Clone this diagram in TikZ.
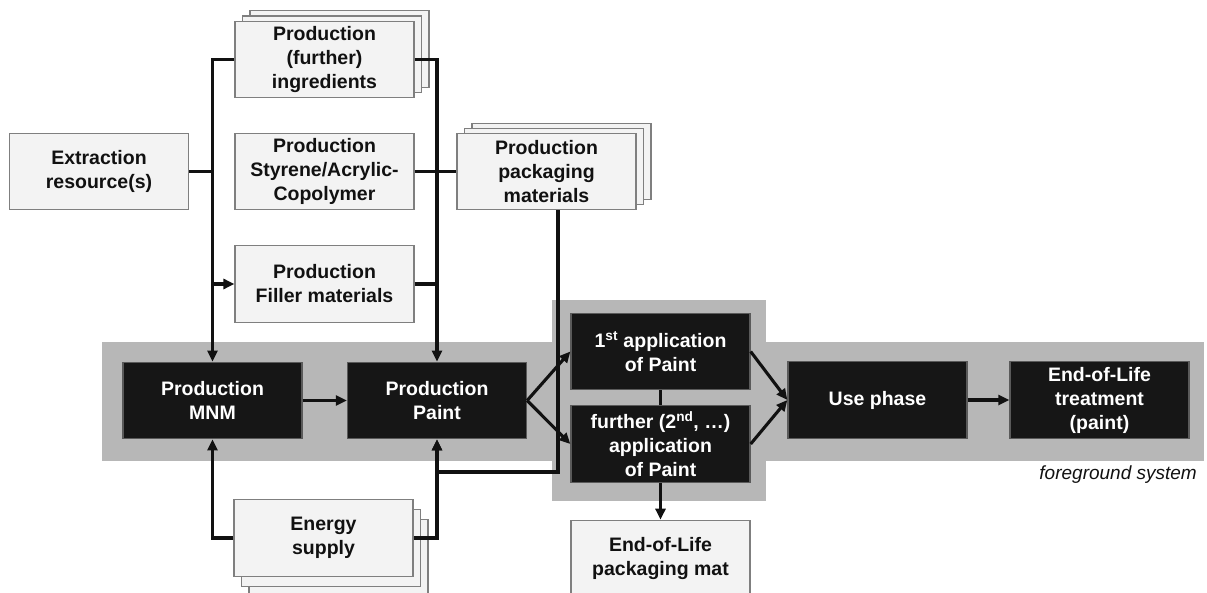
\documentclass[tikz,border=0pt]{standalone}
\usepackage{fontspec}
\setmainfont{Liberation Sans}
\usetikzlibrary{arrows.meta}
\definecolor{lightfill}{HTML}{F3F3F3}
\definecolor{lightline}{HTML}{7F7F7F}
\definecolor{darkfill}{HTML}{161616}
\definecolor{darkline}{HTML}{5A5A5A}
\definecolor{bandgray}{HTML}{B7B7B7}
\definecolor{inkblack}{HTML}{111111}
\tikzset{
  box/.style={rectangle, minimum width=179pt, minimum height=76.5pt, inner sep=0pt,
    align=center, font=\bfseries\fontsize{19.5}{24}\selectfont},
  lightbox/.style={box, fill=lightfill, draw=lightline, line width=1.2pt, text=inkblack},
  darkbox/.style={box, fill=darkfill, draw=darkline, line width=1.3pt, text=white},
  conn/.style={draw=inkblack, line width=3.1pt},
  arr/.style={conn, -{Triangle[length=11pt,width=10pt]}},
}
\begin{document}
\begin{tikzpicture}[x=1pt,y=-1pt]
\useasboundingbox (0,0) rectangle (1207,593);
% grey regions (foreground system)
\fill[bandgray] (102,342) rectangle (1204,461);
\fill[bandgray] (552,300) rectangle (766,501);

% background boxes
\node[lightbox] (extr) at (99,171.5) {Extraction\\resource(s)};
\node[lightbox] (ingr3) at (339.5,48.9) {};
\node[lightbox] (ingr2) at (332,54.2) {};
\node[lightbox] (ingr) at (324.5,59.5) {Production\\(further)\\ingredients};
\node[lightbox] (styr) at (324.5,171.5) {Production\\Styrene/Acrylic-\\Copolymer};
\node[lightbox] (fill) at (324.5,284) {Production\\Filler materials};
\node[lightbox] (pack3) at (561.5,161.5) {};
\node[lightbox] (pack2) at (554,166.5) {};
\node[lightbox] (pack) at (546.5,171.5) {Production\\packaging\\materials};
\node[lightbox] (energy3) at (338.5,558) {};
\node[lightbox] (energy2) at (331,548) {};
\node[lightbox] (energy) at (323.5,538) {Energy\\supply};
\node[lightbox] (eolp) at (660.5,558.5) {End-of-Life\\packaging mat};

% foreground boxes
\node[darkbox] (mnm) at (212.5,400.5) {Production\\MNM};
\node[darkbox] (paint) at (437,400.5) {Production\\Paint};
\node[darkbox] (app1) at (660.5,351.5) {1\textsuperscript{st} application\\of Paint};
\node[darkbox] (app2) at (660.5,444) {further (2\textsuperscript{nd}, …)\\application\\of Paint};
\node[darkbox] (use) at (877.5,400) {Use phase};
\node[darkbox] (eol) at (1099.5,400) {End-of-Life\\treatment\\(paint)};

\node[anchor=base east, font=\itshape\fontsize{19}{23}\selectfont, text=inkblack, inner sep=0pt]
  (fg) at (1197,479) {foreground system};

% left distribution line
\draw[arr] (ingr.west) -| (mnm.north);
\draw[conn] (extr.east) -- (extr.east -| mnm.north);
\draw[arr] (fill.west -| mnm.north) -- (fill.west);
% right collection line
\draw[arr] (ingr.east) -| (paint.north);
\draw[conn] (styr.east) -- (pack.west);
\draw[conn] (fill.east) -- (fill.east -| paint.north);
% packaging to paint
\coordinate (pkd) at (558,472);
\draw[arr] (pack.south -| pkd) -- (pkd) -| (paint.south);
% energy
\draw[arr] (energy.west) -| (mnm.south);
\draw[arr] (energy.east) -| (paint.south);
% foreground chain
\draw[arr] (mnm.east) -- (paint.west);
\draw[arr] (paint.east) -- (app1.west);
\draw[arr] (paint.east) -- (app2.west);
\draw[conn] (app1.south) -- (app2.north);
\draw[arr] (app1.east) -- (use.west);
\draw[arr] (app2.east) -- (use.west);
\draw[arr] (use.east) -- (eol.west);
\draw[arr] (app2.south) -- (eolp.north);
\end{tikzpicture}
\end{document}
